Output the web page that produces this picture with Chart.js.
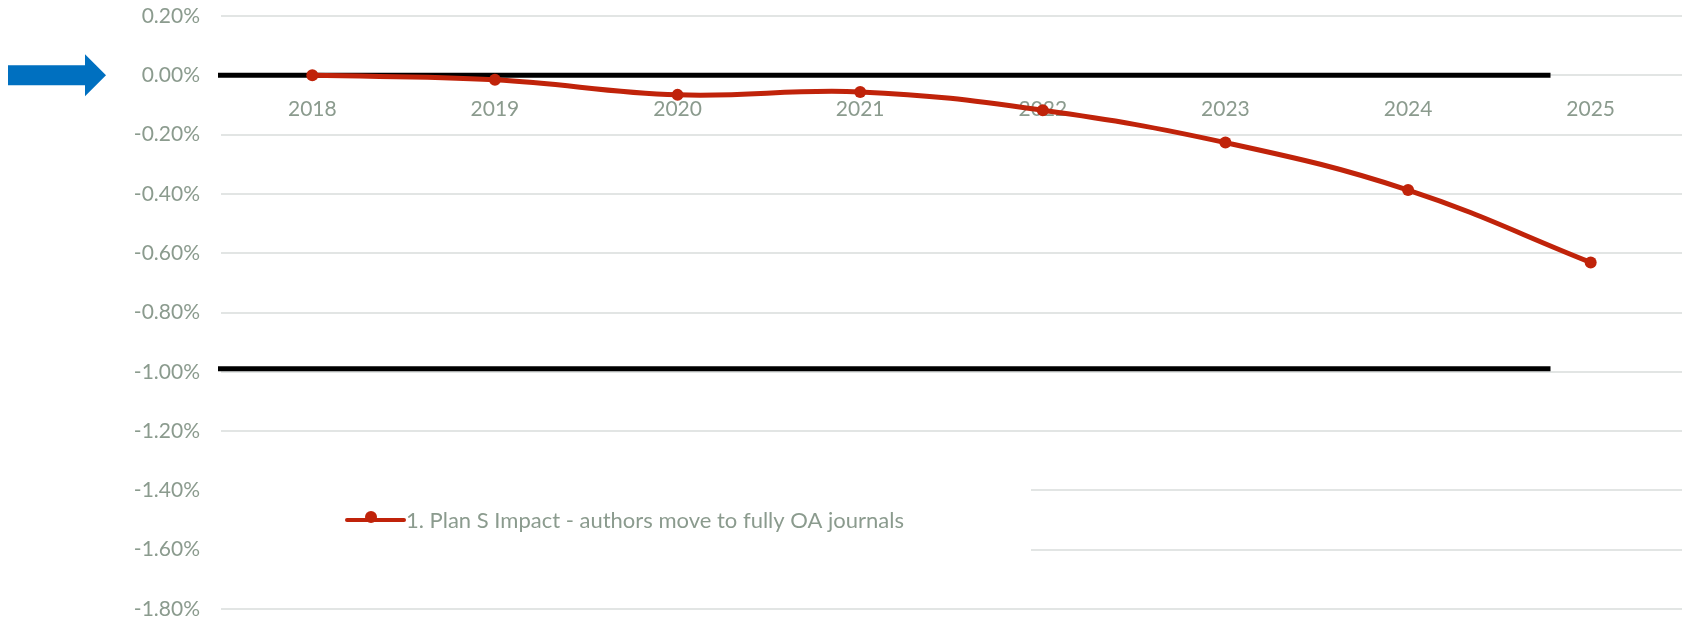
<!DOCTYPE html>
<html>
<head>
<meta charset="utf-8">
<script src="https://cdn.jsdelivr.net/npm/chart.js@4.4.1/dist/chart.umd.min.js"></script>
<style>
  html, body { margin: 0; padding: 0; background: #fff; }
  #wrap { width: 1694px; height: 619px; position: relative; }
</style>
</head>
<body>
<div id="wrap"><canvas id="mycanvas"></canvas></div>
<script>
// years on the category axis
var years = ['2018', '2019', '2020', '2021', '2022', '2023', '2024', '2025'];
// impact in percent, one value per year
var impact = [0, -0.015, -0.066, -0.056, -0.118, -0.227, -0.387, -0.631];
var seriesName = '1. Plan S Impact - authors move to fully OA journals';
// value axis range and step (percent)
var yMin = -1.8;
var yMax = 0.2;
var yStep = 0.2;
// black reference bands (percent) and where they stop on the category axis
var refLevels = [0, -0.99];
var refEnd = 6.78;

var textColor = '#8b9b8e';
var lineColor = '#c0230a';
var gridColor = '#e2e5e4';
var fontFamily = 'Lato, "Open Sans", sans-serif';

// thick black lines at the reference levels
var refLinesPlugin = {
  id: 'refLines',
  beforeDatasetsDraw: function(chart) {
    var ctx = chart.ctx, xs = chart.scales.x, ys = chart.scales.y;
    var step = xs.getPixelForValue(1) - xs.getPixelForValue(0);
    var xEnd = xs.getPixelForValue(Math.floor(refEnd)) + (refEnd - Math.floor(refEnd)) * step;
    ctx.save();
    ctx.strokeStyle = '#000';
    ctx.lineWidth = 5;
    refLevels.forEach(function(v) {
      var y = ys.getPixelForValue(v);
      ctx.beginPath();
      ctx.moveTo(chart.chartArea.left - 3, y);
      ctx.lineTo(xEnd, y);
      ctx.stroke();
    });
    ctx.restore();
  }
};

// legend box sitting inside the plot, plus the blue pointer at zero
var extrasPlugin = {
  id: 'extras',
  afterDraw: function(chart) {
    var ctx = chart.ctx, ys = chart.scales.y, area = chart.chartArea;
    var ds = chart.data.datasets[0];
    ctx.save();

    // legend
    ctx.fillStyle = '#fff';
    ctx.fillRect(area.left, 456, 1031 - area.left, 128);
    ctx.strokeStyle = ds.borderColor;
    ctx.lineWidth = 4;
    ctx.lineCap = 'round';
    ctx.beginPath();
    ctx.moveTo(347, 520);
    ctx.lineTo(404, 520);
    ctx.stroke();
    ctx.fillStyle = ds.borderColor;
    ctx.beginPath();
    ctx.arc(371, 517, 6, 0, Math.PI * 2);
    ctx.fill();
    ctx.fillStyle = textColor;
    ctx.font = '22px ' + fontFamily;
    ctx.textBaseline = 'middle';
    ctx.textAlign = 'left';
    ctx.fillText(ds.label, 406, 521);

    // arrow pointing at the zero line
    var y0 = ys.getPixelForValue(0);
    ctx.fillStyle = '#0070c0';
    ctx.beginPath();
    ctx.moveTo(8, y0 - 10);
    ctx.lineTo(85, y0 - 10);
    ctx.lineTo(85, y0 - 21);
    ctx.lineTo(106, y0);
    ctx.lineTo(85, y0 + 21);
    ctx.lineTo(85, y0 + 10);
    ctx.lineTo(8, y0 + 10);
    ctx.closePath();
    ctx.fill();
    ctx.restore();
  }
};

var ctx = document.getElementById('mycanvas');

var chart = new Chart(ctx, {
  type: 'line',
  data: {
    labels: years,
    datasets: [{
      label: seriesName,
      data: impact,
      borderColor: lineColor,
      backgroundColor: lineColor,
      borderWidth: 5,
      pointRadius: 6,
      pointBackgroundColor: lineColor,
      pointBorderWidth: 0,
      tension: 0.4,
      fill: false
    }]
  },
  options: {
    responsive: true,
    maintainAspectRatio: false,
    animation: false,
    layout: { padding: { top: 16, bottom: 10, left: 0, right: 12 } },
    plugins: {
      legend: { display: false },
      tooltip: { enabled: false }
    },
    scales: {
      x: {
        type: 'category',
        position: { y: 0 },
        offset: true,
        grid: { display: false, drawTicks: false },
        border: { display: false },
        ticks: {
          color: textColor,
          font: { family: fontFamily, size: 21 },
          padding: 21,
          maxRotation: 0
        },
        afterFit: function(scale) {
          scale.height = 0;
          scale.paddingLeft = 0;
          scale.paddingRight = 0;
        }
      },
      y: {
        min: yMin,
        max: yMax,
        grid: { color: gridColor, lineWidth: 2, drawTicks: false },
        border: { display: false },
        ticks: {
          stepSize: yStep,
          color: textColor,
          font: { family: fontFamily, size: 21 },
          padding: 21,
          callback: function(v) {
            if (Math.abs(v) < 1e-9) v = 0;
            return v.toFixed(2) + '%';
          }
        },
        afterFit: function(scale) {
          scale.width = 221;
          scale.paddingTop = 0;
          scale.paddingBottom = 0;
        }
      }
    }
  },
  plugins: [refLinesPlugin, extrasPlugin]
});
</script>
</body>
</html>
